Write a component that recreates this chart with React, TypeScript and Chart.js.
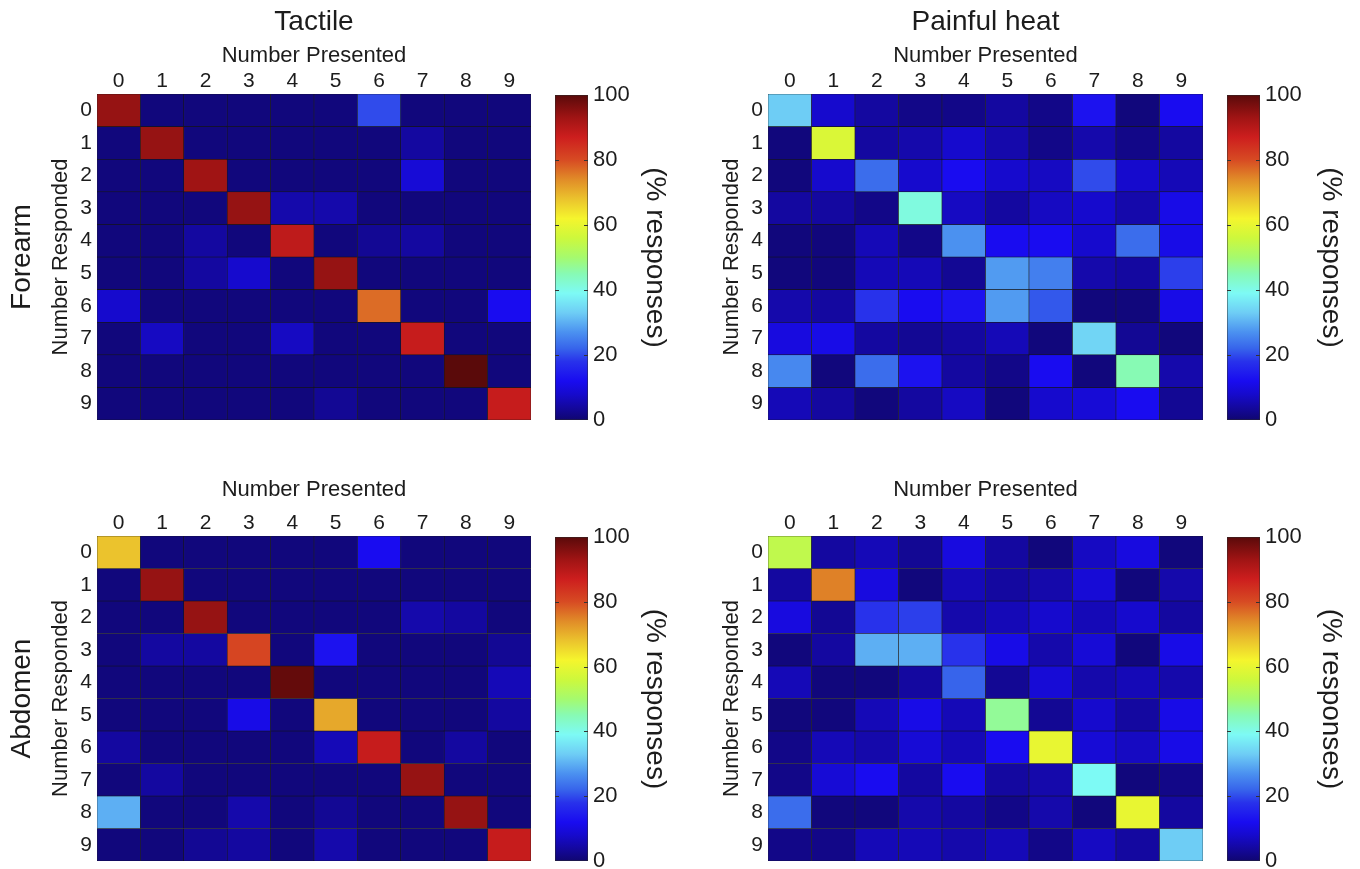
import React, { useEffect, useRef } from 'react';
import { Chart, registerables } from 'chart.js';

Chart.register(...registerables);

// ---------------- data ----------------
const numberLabels = ['0', '1', '2', '3', '4', '5', '6', '7', '8', '9'];
const colorbarTicks = [0, 20, 40, 60, 80, 100];

// rows = Number Responded, columns = Number Presented (% responses)
const forearmTactile = [
  [94, 1, 1, 1, 1, 1, 20, 1, 1, 1],
  [1, 94, 1, 1, 1, 1, 1, 4, 1, 1],
  [1, 1, 93, 1, 1, 1, 1, 9, 1, 1],
  [1, 1, 1, 94, 5, 5, 1, 1, 1, 1],
  [1, 1, 4, 1, 89, 1, 3, 4, 1, 1],
  [1, 1, 4, 8, 1, 94, 1, 1, 1, 1],
  [8, 1, 1, 1, 1, 1, 77, 1, 1, 12],
  [1, 7, 1, 1, 7, 1, 1, 88, 1, 1],
  [1, 1, 1, 1, 1, 1, 1, 1, 100, 1],
  [1, 1, 1, 1, 1, 3, 1, 1, 1, 88],
];

const forearmHeat = [
  [33, 8, 4, 2, 2, 4, 2, 13, 1, 12],
  [1, 58, 4, 5, 8, 5, 2, 5, 2, 4],
  [1, 8, 23, 8, 12, 8, 7, 20, 8, 6],
  [4, 4, 2, 41, 7, 4, 7, 8, 5, 11],
  [1, 1, 6, 2, 27, 12, 12, 8, 23, 11],
  [1, 1, 6, 6, 3, 28, 25, 5, 4, 19],
  [5, 4, 18, 12, 13, 28, 21, 1, 1, 11],
  [10, 11, 4, 3, 4, 6, 1, 34, 3, 1],
  [26, 1, 23, 13, 4, 2, 12, 1, 45, 5],
  [6, 4, 1, 4, 7, 1, 8, 9, 12, 3],
];

const abdomenTactile = [
  [68, 1, 1, 1, 1, 1, 12, 1, 1, 1],
  [1, 94, 1, 1, 1, 1, 1, 1, 1, 1],
  [1, 1, 94, 1, 1, 1, 1, 5, 4, 1],
  [1, 4, 4, 81, 1, 13, 1, 1, 1, 3],
  [1, 1, 1, 1, 99, 1, 1, 1, 1, 6],
  [1, 1, 1, 11, 1, 71, 1, 1, 1, 4],
  [4, 1, 1, 1, 1, 6, 88, 1, 4, 1],
  [1, 4, 1, 1, 1, 1, 1, 94, 1, 1],
  [30, 1, 1, 5, 1, 3, 1, 1, 94, 1],
  [1, 1, 3, 4, 1, 5, 1, 1, 1, 88],
];

const abdomenHeat = [
  [54, 4, 6, 3, 10, 4, 1, 7, 10, 1],
  [4, 75, 10, 1, 6, 4, 5, 9, 1, 5],
  [10, 3, 18, 19, 5, 6, 8, 6, 8, 4],
  [1, 4, 30, 30, 18, 11, 5, 9, 1, 11],
  [6, 1, 1, 4, 22, 3, 9, 5, 6, 5],
  [1, 1, 6, 11, 6, 47, 3, 8, 4, 11],
  [2, 6, 5, 9, 6, 12, 60, 9, 7, 11],
  [2, 9, 12, 4, 12, 4, 5, 39, 1, 2],
  [23, 1, 1, 5, 4, 2, 5, 1, 60, 4],
  [2, 2, 6, 6, 5, 6, 2, 7, 4, 33],
];

// ---------------- colormap (jet, as it appears in the figure) ----------------
const COLOR_STOPS: [number, number, number, number][] = [
  [0, 16, 6, 112],
  [4, 20, 8, 160],
  [8, 22, 10, 205],
  [12, 25, 12, 240],
  [18, 40, 50, 235],
  [22, 55, 100, 235],
  [27, 75, 145, 240],
  [33, 110, 205, 245],
  [39, 125, 250, 245],
  [45, 135, 250, 180],
  [50, 165, 250, 110],
  [56, 205, 248, 60],
  [62, 245, 245, 45],
  [68, 235, 195, 45],
  [74, 225, 140, 40],
  [80, 215, 75, 35],
  [87, 205, 30, 30],
  [93, 160, 20, 20],
  [100, 90, 10, 10],
];

function colorFor(v: number): string {
  const x = Math.max(0, Math.min(100, v));
  for (let i = 1; i < COLOR_STOPS.length; i++) {
    const a = COLOR_STOPS[i - 1];
    const b = COLOR_STOPS[i];
    if (x <= b[0]) {
      const t = (x - a[0]) / (b[0] - a[0]);
      const r = Math.round(a[1] + (b[1] - a[1]) * t);
      const g = Math.round(a[2] + (b[2] - a[2]) * t);
      const bl = Math.round(a[3] + (b[3] - a[3]) * t);
      return `rgb(${r},${g},${bl})`;
    }
  }
  const l = COLOR_STOPS[COLOR_STOPS.length - 1];
  return `rgb(${l[1]},${l[2]},${l[3]})`;
}

const FONT = '"Liberation Sans", Arial, Helvetica, sans-serif';
const TEXT = '#1c1c1c';
Chart.defaults.font.family = FONT;
Chart.defaults.color = TEXT;

const noEdgePadding = (s: any) => {
  s.paddingTop = 0;
  s.paddingBottom = 0;
  s.paddingLeft = 0;
  s.paddingRight = 0;
};

// ---------------- heatmap ----------------
type HeatSpec = {
  matrix: number[][];
  title?: string;
  site?: string;
  left: number;
  top: number;
  width: number;
  height: number;
  padRight: number;
  padBottom: number;
  xAxisHeight: number;
  xTitlePad: number;
  yAxisWidth: number;
  yTitlePad: number;
};

function Heatmap({ spec }: { spec: HeatSpec }) {
  const ref = useRef<HTMLCanvasElement | null>(null);
  useEffect(() => {
    if (!ref.current) return;
    const datasets = spec.matrix.map((row, r) => ({
      label: numberLabels[r],
      data: row.map(() => [r, r + 1]),
      backgroundColor: row.map((v) => colorFor(v)),
      borderColor: '#161616',
      borderWidth: 0.6,
      borderSkipped: false,
      grouped: false,
      barPercentage: 1,
      categoryPercentage: 1,
    }));
    const scales: any = {
      x: {
        type: 'category',
        labels: numberLabels,
        position: 'top',
        offset: true,
        grid: { display: false, drawTicks: false },
        border: { display: false },
        ticks: { padding: 2.5, maxRotation: 0, autoSkip: false, font: { size: 21, lineHeight: 1 }, color: TEXT },
        title: {
          display: true,
          text: 'Number Presented',
          font: { size: 22, lineHeight: 1 },
          color: TEXT,
          padding: { top: spec.xTitlePad, bottom: 0 },
        },
        afterFit: (s: any) => {
          s.height = spec.xAxisHeight;
          noEdgePadding(s);
        },
      },
      y: {
        type: 'linear',
        min: 0,
        max: numberLabels.length,
        reverse: true,
        position: 'left',
        weight: 0,
        grid: { display: false, drawTicks: false },
        border: { display: false },
        afterBuildTicks: (axis: any) => {
          axis.ticks = numberLabels.map((_, i) => ({ value: i + 0.5 }));
        },
        ticks: {
          padding: 5,
          autoSkip: false,
          font: { size: 21, lineHeight: 1 },
          color: TEXT,
          callback: (v: any) => numberLabels[Math.floor(Number(v))],
        },
        title: {
          display: true,
          text: 'Number Responded',
          font: { size: 22, lineHeight: 1 },
          color: TEXT,
          padding: { top: spec.yTitlePad, bottom: 0 },
        },
        afterFit: (s: any) => {
          s.width = spec.yAxisWidth;
          noEdgePadding(s);
        },
      },
    };
    if (spec.site) {
      scales.site = {
        type: 'linear',
        position: 'left',
        weight: 1,
        grid: { display: false, drawTicks: false },
        border: { display: false },
        ticks: { display: false },
        title: {
          display: true,
          text: spec.site,
          font: { size: 28, lineHeight: 1 },
          color: TEXT,
          padding: { top: 8, bottom: 0 },
        },
        afterFit: (s: any) => {
          s.width = 40;
          noEdgePadding(s);
        },
      };
    }
    const chart = new Chart(ref.current, {
      type: 'bar',
      data: { labels: numberLabels, datasets: datasets as any },
      options: {
        responsive: false,
        animation: false,
        layout: { padding: { left: 0, top: 0, right: spec.padRight, bottom: spec.padBottom } },
        scales,
        plugins: {
          legend: { display: false },
          tooltip: { enabled: false },
          title: spec.title
            ? {
                display: true,
                fullSize: false,
                text: spec.title,
                font: { size: 28, lineHeight: 1, weight: 'normal' },
                color: TEXT,
                padding: { top: 8, bottom: 8 },
              }
            : { display: false },
        },
      } as any,
    });
    return () => chart.destroy();
  }, [spec]);
  return (
    <canvas
      ref={ref}
      width={spec.width}
      height={spec.height}
      style={{ position: 'absolute', left: spec.left, top: spec.top, width: spec.width, height: spec.height }}
    />
  );
}

// ---------------- colorbar ----------------
type BarSpec = {
  left: number;
  top: number;
  width: number;
  height: number;
  padTop: number;
  padBottom: number;
  axisWidth: number;
  titlePad: number;
};

const insideTicks = {
  id: 'insideTicks',
  afterDatasetsDraw(chart: any) {
    const y = chart.scales.y;
    const { left, right } = chart.chartArea;
    const ctx = chart.ctx;
    ctx.save();
    ctx.strokeStyle = '#333';
    ctx.lineWidth = 1;
    colorbarTicks.slice(1, -1).forEach((v) => {
      const py = Math.round(y.getPixelForValue(v)) + 0.5;
      ctx.beginPath();
      ctx.moveTo(left, py);
      ctx.lineTo(left + 4, py);
      ctx.moveTo(right - 4, py);
      ctx.lineTo(right, py);
      ctx.stroke();
    });
    ctx.restore();
  },
};

function Colorbar({ spec }: { spec: BarSpec }) {
  const ref = useRef<HTMLCanvasElement | null>(null);
  useEffect(() => {
    if (!ref.current) return;
    const lo = colorbarTicks[0];
    const hi = colorbarTicks[colorbarTicks.length - 1];
    const chart = new Chart(ref.current, {
      type: 'bar',
      data: {
        labels: [''],
        datasets: [
          {
            data: [[lo, hi]] as any,
            backgroundColor: (ctx: any) => {
              const c = ctx.chart;
              if (!c.chartArea) return colorFor(0);
              const ys = c.scales.y;
              const g = c.ctx.createLinearGradient(0, ys.getPixelForValue(lo), 0, ys.getPixelForValue(hi));
              COLOR_STOPS.forEach((s) => g.addColorStop((s[0] - lo) / (hi - lo), `rgb(${s[1]},${s[2]},${s[3]})`));
              return g;
            },
            borderColor: '#2a2a2a',
            borderWidth: 0.8,
            borderSkipped: false,
            barPercentage: 1,
            categoryPercentage: 1,
          } as any,
        ],
      },
      options: {
        responsive: false,
        animation: false,
        layout: { padding: { left: 15, top: spec.padTop, right: 0, bottom: spec.padBottom } },
        scales: {
          x: { display: false },
          y: {
            position: 'right',
            min: lo,
            max: hi,
            grid: { display: false, drawTicks: false },
            border: { display: false },
            afterBuildTicks: (axis: any) => {
              axis.ticks = colorbarTicks.map((v) => ({ value: v }));
            },
            ticks: { padding: 5, font: { size: 22, lineHeight: 1 }, color: TEXT },
            title: {
              display: true,
              text: '(% responses)',
              font: { size: 28, lineHeight: 1 },
              color: TEXT,
              padding: { top: spec.titlePad, bottom: 0 },
            },
            afterFit: (s: any) => {
              s.width = spec.axisWidth;
              noEdgePadding(s);
            },
          },
        },
        plugins: { legend: { display: false }, tooltip: { enabled: false } },
      } as any,
      plugins: [insideTicks],
    });
    return () => chart.destroy();
  }, [spec]);
  return (
    <canvas
      ref={ref}
      width={spec.width}
      height={spec.height}
      style={{ position: 'absolute', left: spec.left, top: spec.top, width: spec.width, height: spec.height }}
    />
  );
}

// ---------------- layout ----------------
const heatSpecs: HeatSpec[] = [
  { matrix: forearmTactile, title: 'Tactile', site: 'Forearm', left: 0, top: 0, width: 540, height: 436, padRight: 9, padBottom: 16, xAxisHeight: 50, xTitlePad: 1, yAxisWidth: 57, yTitlePad: 10 },
  { matrix: forearmHeat, title: 'Painful heat', left: 680, top: 0, width: 530, height: 436, padRight: 7, padBottom: 16, xAxisHeight: 50, xTitlePad: 1, yAxisWidth: 88, yTitlePad: 41 },
  { matrix: abdomenTactile, site: 'Abdomen', left: 0, top: 440, width: 540, height: 429, padRight: 9, padBottom: 8, xAxisHeight: 96, xTitlePad: 39, yAxisWidth: 57, yTitlePad: 10 },
  { matrix: abdomenHeat, left: 680, top: 440, width: 530, height: 429, padRight: 7, padBottom: 8, xAxisHeight: 96, xTitlePad: 39, yAxisWidth: 88, yTitlePad: 41 },
];

const barSpecs: BarSpec[] = [
  { left: 540, top: 0, width: 140, height: 436, padTop: 95, padBottom: 16, axisWidth: 92, titlePad: 11 },
  { left: 1212, top: 0, width: 148, height: 436, padTop: 95, padBottom: 16, axisWidth: 100, titlePad: 15 },
  { left: 540, top: 440, width: 140, height: 429, padTop: 97, padBottom: 8, axisWidth: 92, titlePad: 11 },
  { left: 1212, top: 440, width: 148, height: 429, padTop: 97, padBottom: 8, axisWidth: 100, titlePad: 15 },
];

export default function App() {
  useEffect(() => {
    document.body.style.margin = '0';
    document.body.style.overflow = 'hidden';
    document.body.style.background = '#ffffff';
  }, []);
  return (
    <div style={{ position: 'relative', width: 1360, height: 869, background: '#fff', overflow: 'hidden' }}>
      {heatSpecs.map((s, i) => (
        <Heatmap key={'h' + i} spec={s} />
      ))}
      {barSpecs.map((s, i) => (
        <Colorbar key={'c' + i} spec={s} />
      ))}
    </div>
  );
}
